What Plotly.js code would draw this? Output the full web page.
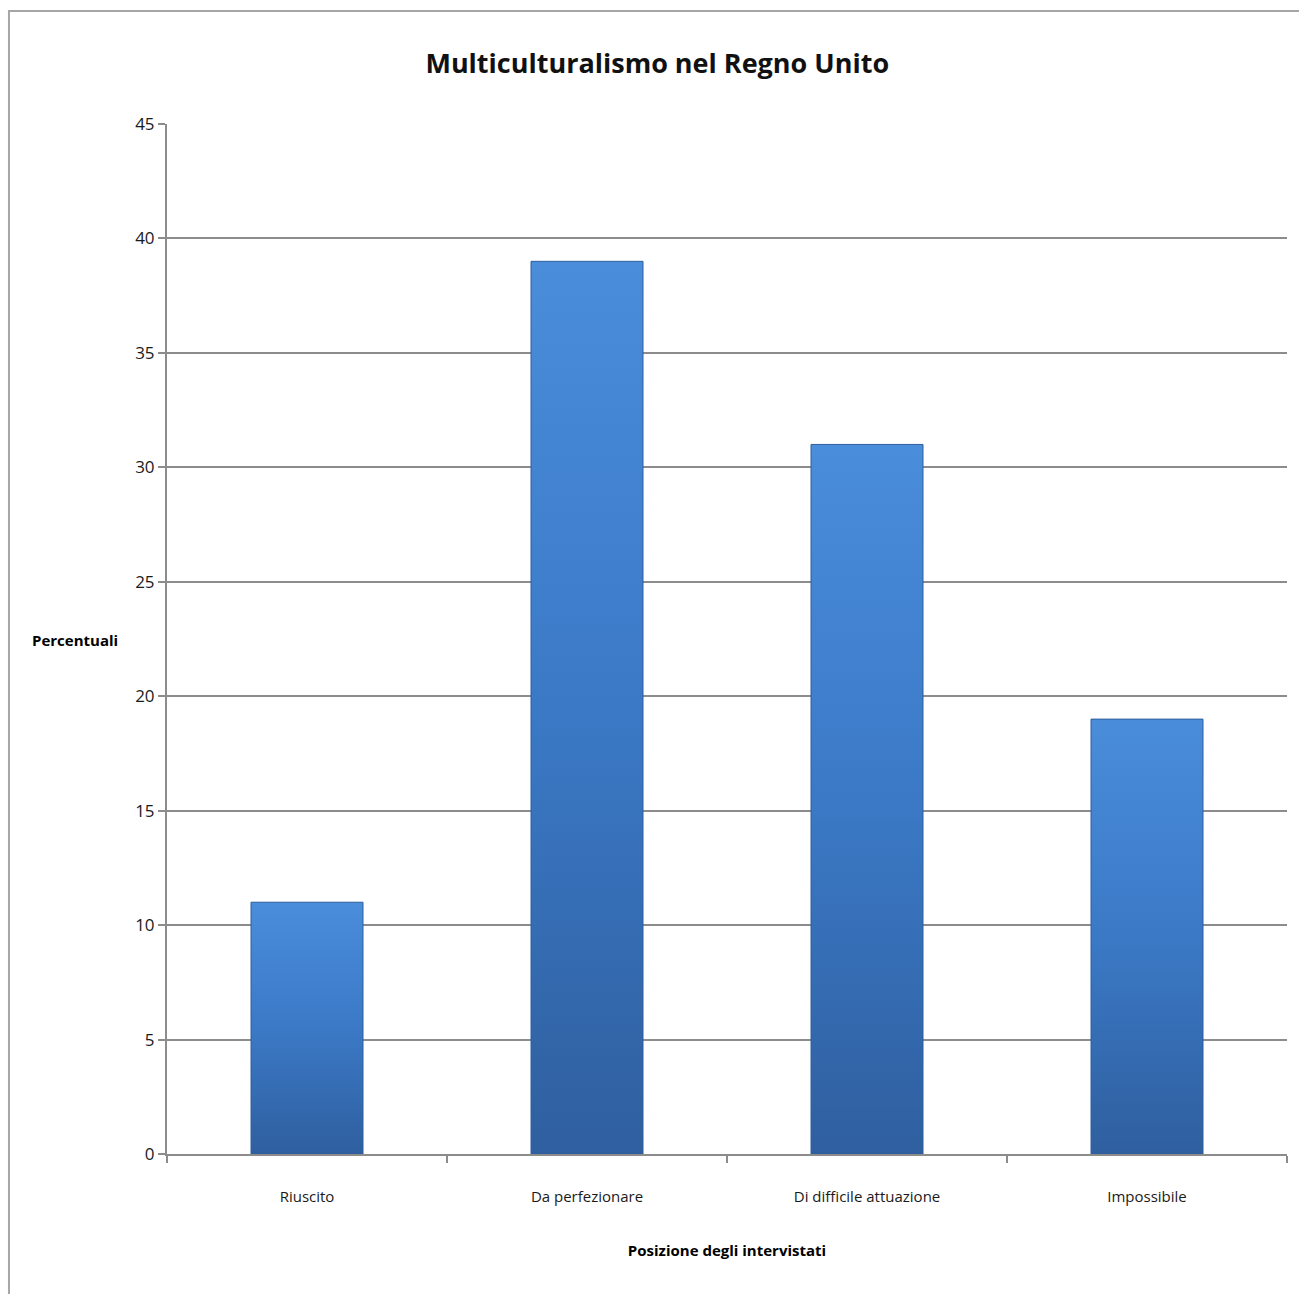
<!DOCTYPE html>
<html>
<head>
<meta charset="utf-8">
<script src="https://cdn.plot.ly/plotly-3.0.1.min.js"></script>
<style>
html,body{margin:0;padding:0;background:#fff;}
#chart{width:1299px;height:1294px;}
</style>
</head>
<body>
<div id="chart"></div>
<script>
const categories = ["Riuscito", "Da perfezionare", "Di difficile attuazione", "Impossibile"];
const values = [11, 39, 31, 19];
const yTicks = [0, 5, 10, 15, 20, 25, 30, 35, 40, 45];

const FONT = "'Open Sans', 'Liberation Sans', sans-serif";

const trace = {
  type: "bar",
  x: categories,
  y: values,
  marker: {color: "#3a75c2", line: {color: "#2e5e9c", width: 1}},
  hoverinfo: "x+y"
};

const layout = {
  width: 1299,
  height: 1294,
  margin: {l: 167, r: 12, t: 124, b: 140},
  paper_bgcolor: "#ffffff",
  plot_bgcolor: "#ffffff",
  bargap: 0.6,
  showlegend: false,
  font: {family: FONT, color: "#1a1a1a", size: 15},
  title: {
    text: "Multiculturalismo nel Regno Unito",
    font: {family: FONT, size: 27, color: "#111", weight: 700},
    x: 0.506, xanchor: "center", xref: "container", y: 0.951, yanchor: "middle"
  },
  xaxis: {
    type: "category",
    showline: true, linecolor: "#8c8c8c", linewidth: 2,
    ticks: "outside", ticklen: 7, tickcolor: "#8c8c8c", tickwidth: 2,
    tickson: "boundaries",
    ticklabelstandoff: 28,
    tickfont: {family: FONT, size: 15, color: "#1a1a1a"},
    title: {text: "<b>Posizione degli intervistati</b>", font: {family: FONT, size: 15, color: "#000"}, standoff: 40},
    showgrid: false, zeroline: false, fixedrange: true
  },
  yaxis: {
    range: [0, 45],
    tickvals: yTicks,
    showline: true, linecolor: "#8c8c8c", linewidth: 2,
    ticks: "outside", ticklen: 7, tickcolor: "#8c8c8c", tickwidth: 2,
    tickfont: {family: FONT, size: 17, color: "#1a1a1a"},
    showgrid: true, gridcolor: "#8c8c8c", gridwidth: 2,
    zeroline: false, fixedrange: true
  },
  annotations: [{
    text: "<b>Percentuali</b>",
    xref: "paper", yref: "paper",
    x: -0.082, y: 0.499, xanchor: "center", yanchor: "middle",
    showarrow: false,
    font: {family: FONT, size: 15, color: "#000"}
  }],
  shapes: [{
    type: "rect", xref: "paper", yref: "paper",
    x0: -0.1411, x1: 1.03, y0: -0.16, y1: 1.1097,
    line: {color: "#a6a6a6", width: 2}, fillcolor: "rgba(0,0,0,0)", layer: "below"
  }]
};

Plotly.newPlot("chart", [trace], layout, {displayModeBar: false, staticPlot: true}).then(function(gd){
  const svg = gd.querySelector("svg.main-svg");
  const ns = "http://www.w3.org/2000/svg";
  let defs = svg.querySelector("defs");
  if (!defs) { defs = document.createElementNS(ns, "defs"); svg.insertBefore(defs, svg.firstChild); }
  const grad = document.createElementNS(ns, "linearGradient");
  grad.setAttribute("id", "barGrad");
  grad.setAttribute("x1", "0"); grad.setAttribute("y1", "0");
  grad.setAttribute("x2", "0"); grad.setAttribute("y2", "1");
  [["0%", "#4a8ddb"], ["50%", "#3b79c6"], ["100%", "#2f5f9f"]].forEach(function(s){
    const st = document.createElementNS(ns, "stop");
    st.setAttribute("offset", s[0]); st.setAttribute("stop-color", s[1]);
    grad.appendChild(st);
  });
  defs.appendChild(grad);
  gd.querySelectorAll(".bars .point path").forEach(function(p){
    p.style.fill = "url(#barGrad)";
  });
});
</script>
</body>
</html>
